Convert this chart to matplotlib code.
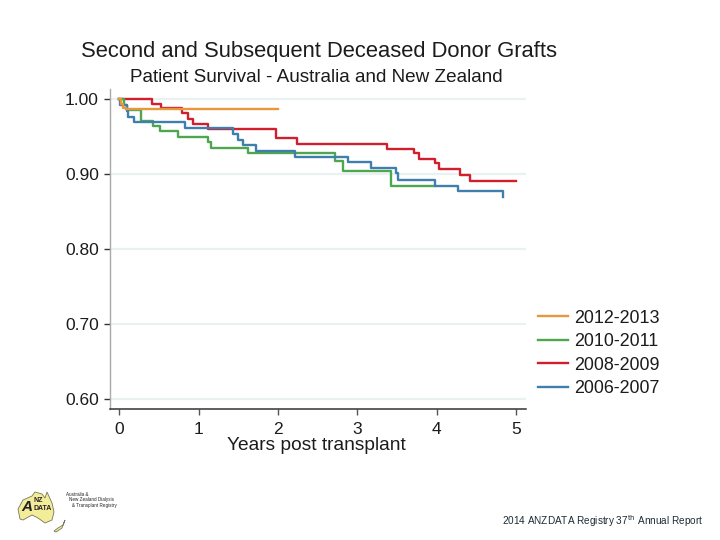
import matplotlib
matplotlib.use("Agg")
import matplotlib.pyplot as plt
from matplotlib.patches import Polygon

plt.rcParams['font.family'] = ['Liberation Sans', 'DejaVu Sans']

# survival curves
years_1213 = [0, 0.02, 0.05, 0.085, 2.0]
surv_1213 = [1.0, 0.993, 0.988, 0.986, 0.986]

years_1011 = [0, 0.06, 0.093, 0.274, 0.303, 0.42, 0.513, 0.736, 1.122, 1.152, 1.62, 2.716, 2.817, 3.42, 3.98]
surv_1011 = [1.0, 0.992, 0.985, 0.971, 0.971, 0.964, 0.957, 0.95, 0.943, 0.935, 0.928, 0.918, 0.904, 0.884, 0.884]

years_0809 = [0, 0.41, 0.52, 0.79, 0.87, 0.93, 1.12, 1.98, 2.24, 3.37, 3.72, 3.78, 3.98, 4.03, 4.30, 4.42, 5.0]
surv_0809 = [1.0, 0.993, 0.988, 0.981, 0.974, 0.967, 0.96, 0.948, 0.94, 0.934, 0.928, 0.92, 0.915, 0.907, 0.899, 0.891, 0.891]

years_0607 = [0, 0.005, 0.093, 0.113, 0.19, 0.83, 1.44, 1.50, 1.56, 1.73, 2.21, 2.88, 3.17, 3.49, 3.51, 3.98, 4.275, 4.835]
surv_0607 = [1.0, 0.992, 0.984, 0.976, 0.97, 0.961, 0.953, 0.946, 0.939, 0.931, 0.923, 0.916, 0.908, 0.901, 0.892, 0.884, 0.877, 0.87]

y_ticks = [0.6, 0.7, 0.8, 0.9, 1.0]
x_ticks = [0, 1, 2, 3, 4, 5]

orange = '#e8973a'
green = '#4ea74f'
red = '#d0202e'
blue = '#3f7fae'
txt = '#1c1c1c'

fig = plt.figure(figsize=(7.2, 5.4), dpi=100)
ax = fig.add_axes([110/720, 1-408.7/540, (526-110)/720, (408.7-89)/540])

# 119.3px = 0 yrs, 79.3 px per year; 99px = 1.00, 750 px per unit
ax.set_xlim(-0.117, 5.128)
ax.set_ylim(0.5875, 1.0133)

ax.set_yticks(y_ticks)
ax.set_yticklabels(['%.2f' % v for v in y_ticks])
ax.set_xticks(x_ticks)
ax.grid(axis='y', color='#e9f1f3', lw=1.6)
ax.grid(axis='x', visible=False)
ax.set_axisbelow(True)

ax.step(years_0809, surv_0809, where='post', color=red, lw=1.7, zorder=3)
ax.step(years_1011, surv_1011, where='post', color=green, lw=1.7, zorder=4)
ax.step(years_0607, surv_0607, where='post', color=blue, lw=1.7, zorder=5)
ax.step(years_1213, surv_1213, where='post', color=orange, lw=1.7, zorder=6)

for s in ['top', 'right']:
    ax.spines[s].set_visible(False)
ax.spines['left'].set_color('#a9a9a9')
ax.spines['left'].set_linewidth(1.0)
ax.spines['bottom'].set_color('#333333')
ax.spines['bottom'].set_linewidth(1.1)
ax.tick_params(axis='y', length=4, width=1.0, color='#333333', labelsize=12.5, labelcolor=txt, pad=4)
ax.tick_params(axis='x', length=4, width=1.0, color='#555555', labelsize=12.5, labelcolor=txt, pad=5.5)
ax.set_xlabel('Years post transplant', fontsize=13.8, color=txt)
ax.xaxis.set_label_coords((316-110)/416, -(446-408.7)/319.7, transform=ax.transAxes)
ax.xaxis.label.set_va('center')

fig.text(319/720, 1-51.5/540, 'Second and Subsequent Deceased Donor Grafts', fontsize=15.8, ha='center', va='center', color=txt)
fig.text(316/720, 1-77.5/540, 'Patient Survival - Australia and New Zealand', fontsize=13.6, ha='center', va='center', color=txt)

# legend, in the order of the picture
labels = ['2012-2013', '2010-2011', '2008-2009', '2006-2007']
colors = [orange, green, red, blue]
handles = [plt.Line2D([], [], color=c, lw=1.7) for c in colors]
fig.legend(handles, labels, loc='center left', bbox_to_anchor=(538/720, 1-353.5/540),
           frameon=False, fontsize=12.9, labelcolor=txt, handlelength=1.67, handletextpad=0.33,
           labelspacing=0.365, borderpad=0, borderaxespad=0)

# logo
logo_x = [18, 23, 32, 35, 42, 45, 47, 52, 54, 52, 45, 38, 32, 23, 20]
logo_y = [509, 500, 496, 492, 494, 498, 492, 503, 512, 520, 523, 518, 515, 520, 519]
fig.add_artist(Polygon([(a/720, 1-b/540) for a, b in zip(logo_x, logo_y)], closed=True,
                       facecolor='#f3ec9a', edgecolor='#777755', lw=0.6, transform=fig.transFigure))
fig.add_artist(Polygon([(a/720, 1-b/540) for a, b in zip([65, 63, 58, 54, 56, 62], [520, 525, 528, 531, 532, 528])],
                       closed=True, facecolor='#f3ec9a', edgecolor='#777755', lw=0.6, transform=fig.transFigure))
fig.text(27/720, 1-507/540, 'A', fontsize=11, fontweight='bold', style='italic', color='#222222', ha='center', va='center')
fig.text(38/720, 1-501/540, 'NZ', fontsize=5, fontweight='bold', color='#222222', ha='center', va='center')
fig.text(43/720, 1-508/540, 'DATA', fontsize=5, fontweight='bold', color='#222222', ha='center', va='center')
fig.text(66/720, 1-494.5/540, 'Australia &', fontsize=3.3, color='#222222', va='center')
fig.text(69/720, 1-499.5/540, 'New Zealand Dialysis', fontsize=3.3, color='#222222', va='center')
fig.text(72/720, 1-506/540, '& Transplant Registry', fontsize=3.3, color='#222222', va='center')

fig.text(502/720, 1-521/540, '2014 ANZDATA Registry 37$^{\\mathrm{th}}$ Annual Report', fontsize=7.2, color='#1c2c34', va='center')

fig.savefig('out.png', dpi=100)
